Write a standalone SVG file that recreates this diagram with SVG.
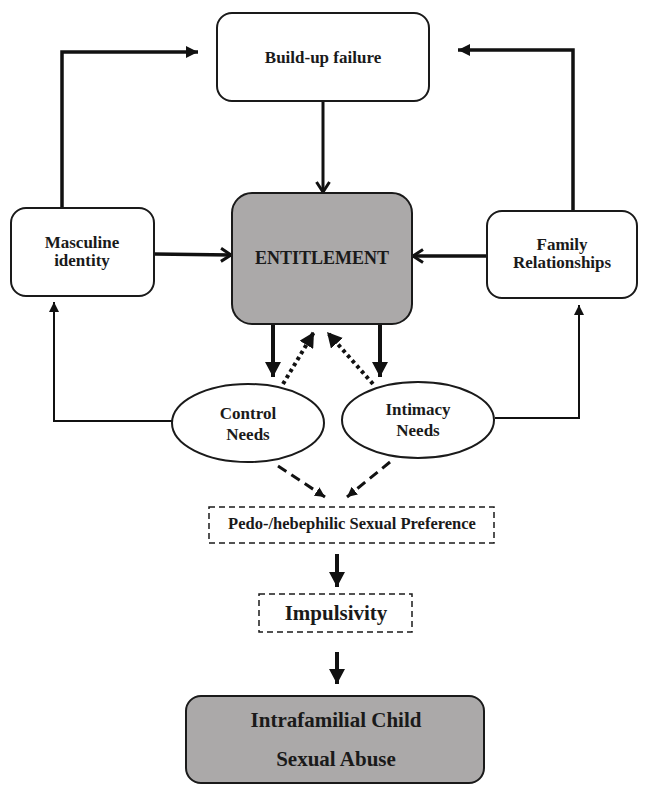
<svg xmlns="http://www.w3.org/2000/svg" width="649" height="795" viewBox="0 0 649 795">
  <style>
    .box { fill: #ffffff; stroke: #1a1a1a; stroke-width: 2; }
    .grey { fill: #aba9a9; stroke: #1a1a1a; stroke-width: 2; }
    .dash { fill: #ffffff; stroke: #1a1a1a; stroke-width: 1.5; stroke-dasharray: 6 4; }
    .lbl { font-family: "Liberation Serif", "Times New Roman", serif; font-weight: bold; fill: #1a1a1a; text-anchor: middle; }
    .line { fill: none; stroke: #111; stroke-linecap: butt; }
  </style>
  <defs>
    <marker id="chev" markerUnits="userSpaceOnUse" markerWidth="14" markerHeight="16" refX="12" refY="8" orient="auto">
      <path d="M2,1.5 L12,8 L2,14.5" fill="none" stroke="#111" stroke-width="3"/>
    </marker>
    <marker id="tri" markerUnits="userSpaceOnUse" markerWidth="14" markerHeight="12" refX="12" refY="6" orient="auto">
      <path d="M0,0 L12,6 L0,12 Z" fill="#111"/>
    </marker>
    <marker id="triBig" markerUnits="userSpaceOnUse" markerWidth="16" markerHeight="16" refX="15" refY="8" orient="auto">
      <path d="M0,0 L15,8 L0,16 Z" fill="#111"/>
    </marker>
    <marker id="triSmall" markerUnits="userSpaceOnUse" markerWidth="12" markerHeight="10" refX="10" refY="5" orient="auto">
      <path d="M0,0 L10,5 L0,10 Z" fill="#111"/>
    </marker>
  </defs>

  <g id="connectors">
    <path class="line" d="M323,101 V192" stroke-width="3" marker-end="url(#chev)"/>
    <path class="line" d="M62,208 V52 H198" stroke-width="3.5" marker-end="url(#tri)"/>
    <path class="line" d="M573,211 V50 H458" stroke-width="3.5" marker-end="url(#tri)"/>
    <path class="line" d="M154,254 L231,255" stroke-width="3.5" marker-end="url(#chev)"/>
    <path class="line" d="M487,256 H413" stroke-width="3.5" marker-end="url(#chev)"/>
    <path class="line" d="M172,421 H54 V302" stroke-width="2" marker-end="url(#triSmall)"/>
    <path class="line" d="M495,418 H579 V305" stroke-width="2" marker-end="url(#triSmall)"/>
    <path class="line" d="M273,325 V377" stroke-width="4" marker-end="url(#triBig)"/>
    <path class="line" d="M380,325 V377" stroke-width="4" marker-end="url(#triBig)"/>
    <path class="line" d="M283,384 L314,332" stroke-width="4" stroke-dasharray="3.5 3.5" marker-end="url(#triBig)"/>
    <path class="line" d="M373,384 L327,332" stroke-width="4" stroke-dasharray="3.5 3.5" marker-end="url(#triBig)"/>
    <path class="line" d="M278,466 L325,497" stroke-width="3" stroke-dasharray="10 6" marker-end="url(#triSmall)"/>
    <path class="line" d="M390,462 L347,497" stroke-width="3" stroke-dasharray="10 6" marker-end="url(#triSmall)"/>
    <path class="line" d="M337,554 V587" stroke-width="4" marker-end="url(#triBig)"/>
    <path class="line" d="M337,652 V684" stroke-width="4" marker-end="url(#triBig)"/>
  </g>

  <g id="buildup">
    <rect class="box" x="217" y="13" width="212" height="88" rx="15"/>
    <text class="lbl" x="323" y="63" font-size="17">Build-up failure</text>
  </g>

  <g id="masculine">
    <rect class="box" x="11" y="208" width="143" height="88" rx="15"/>
    <text class="lbl" x="82" y="248" font-size="17">Masculine</text>
    <text class="lbl" x="82" y="266" font-size="17">identity</text>
  </g>

  <g id="entitlement">
    <rect class="grey" x="232" y="193" width="180" height="131" rx="20"/>
    <text class="lbl" x="322" y="264" font-size="18">ENTITLEMENT</text>
  </g>

  <g id="family">
    <rect class="box" x="487" y="211" width="150" height="87" rx="15"/>
    <text class="lbl" x="562" y="250" font-size="17">Family</text>
    <text class="lbl" x="562" y="268" font-size="17">Relationships</text>
  </g>

  <g id="control">
    <ellipse class="box" cx="248" cy="423" rx="76" ry="39"/>
    <text class="lbl" x="248" y="419" font-size="17">Control</text>
    <text class="lbl" x="248" y="440" font-size="17">Needs</text>
  </g>

  <g id="intimacy">
    <ellipse class="box" cx="418" cy="420" rx="76" ry="38"/>
    <text class="lbl" x="418" y="415" font-size="17">Intimacy</text>
    <text class="lbl" x="418" y="436" font-size="17">Needs</text>
  </g>

  <g id="preference">
    <rect class="dash" x="209" y="507" width="285" height="36"/>
    <text class="lbl" x="352" y="529" font-size="16.5">Pedo-/hebephilic Sexual Preference</text>
  </g>

  <g id="impulsivity">
    <rect class="dash" x="259" y="594" width="153" height="38"/>
    <text class="lbl" x="336" y="620" font-size="21">Impulsivity</text>
  </g>

  <g id="abuse">
    <rect class="grey" x="186" y="696" width="298" height="87" rx="15"/>
    <text class="lbl" x="336" y="727" font-size="21">Intrafamilial Child</text>
    <text class="lbl" x="336" y="766" font-size="21">Sexual Abuse</text>
  </g>
</svg>
